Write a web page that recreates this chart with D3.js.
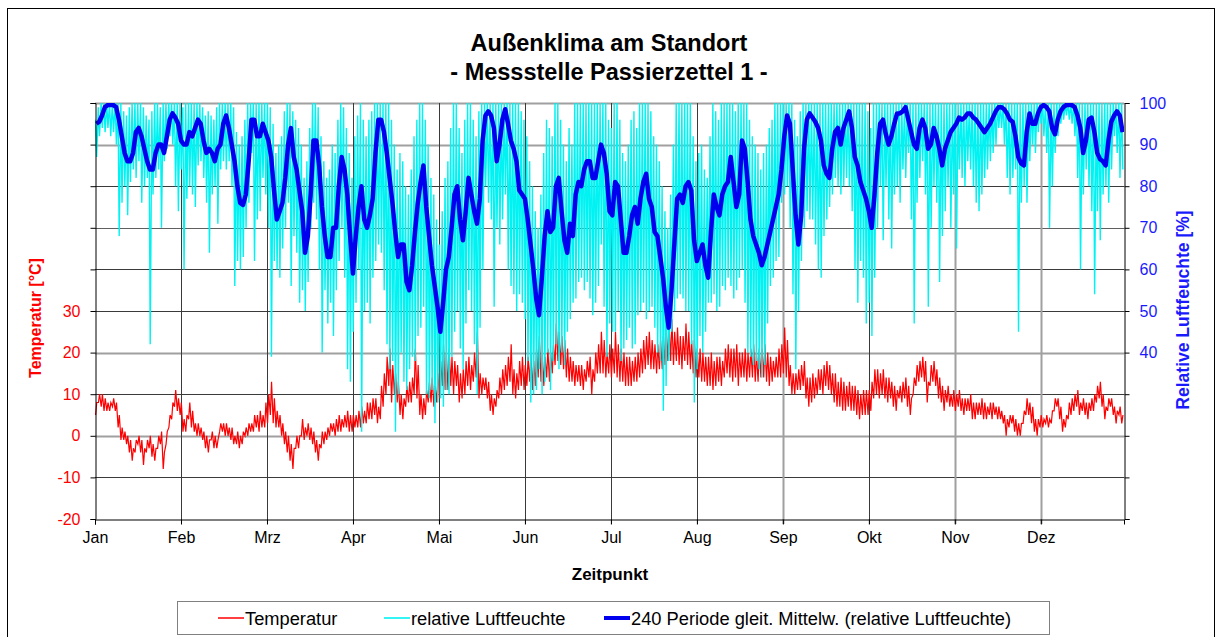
<!DOCTYPE html>
<html>
<head>
<meta charset="utf-8">
<script src="https://cdn.jsdelivr.net/npm/d3@7"></script>
<style>
  body { margin: 0; background: #fff; }
  svg { display: block; font-family: "Liberation Sans", Arial, sans-serif; }
</style>
</head>
<body>
<div id="chart"></div>
<script>
// daily values, 1 Jan .. 31 Dec (365 days)
// temperature: night low / afternoon high (°C)
const tLo = [
  5,8,7,6,6,6,7,6,2,-1,-1,-2,-4,-6,-4,-2,-4,-7,-4,-3,-5,-6,-3,-2,-8,-2,2,4,7,6,5,1,1,4,2,1,0,0,-1,-3,-4,-1,-3,-3,1,1,
  0,0,-1,-2,-2,-3,-2,0,0,1,1,2,1,2,2,3,5,3,2,2,0,-2,-4,-6,-8,-3,-3,0,-1,0,-1,-2,-4,-6,-3,-2,-1,0,1,0,1,1,2,2,1,
  1,2,2,2,3,3,4,4,5,3,4,7,10,12,8,10,8,5,4,7,8,8,10,9,5,4,5,8,8,7,8,9,12,11,11,12,10,12,8,9,10,12,11,13,14,9,10,
  11,9,6,5,7,9,10,11,12,13,10,9,11,12,11,12,13,11,12,14,13,12,14,13,15,17,18,17,16,14,13,13,12,13,12,11,13,14,10,13,15,15,15,14,15,14,
  15,14,13,13,12,12,12,13,13,14,15,16,17,16,16,15,16,16,17,18,18,17,18,17,16,18,17,16,15,14,14,13,13,12,12,11,12,13,12,14,15,14,13,14,12,14,
  14,13,14,14,13,13,14,14,13,12,13,14,14,14,15,14,12,10,10,11,11,12,9,7,8,9,10,11,10,12,11,10,8,7,7,6,6,7,6,6,5,4,5,5,
  5,6,9,10,9,10,9,8,9,7,6,9,8,9,7,5,10,12,13,14,13,8,12,13,12,9,8,6,8,7,7,6,7,6,5,6,6,4,4,5,5,4,4,5,4,5,4,
  4,3,0,2,3,1,0,0,3,5,5,3,1,0,2,2,3,2,3,6,7,4,1,2,4,5,6,7,5,6,5,4,6,6,8,9,7,4,6,7,5,3,5,3
];
const tHi = [
  8,10,10,9,8,8,9,8,5,2,1,0,-1,-3,-1,0,-1,-3,-1,0,-2,-3,0,1,-4,1,5,8,11,9,8,4,5,8,6,3,3,2,1,0,-1,1,0,-1,3,3,
  3,2,2,0,1,0,1,2,3,3,5,5,6,5,8,10,13,9,6,5,3,1,0,-2,-3,0,0,4,2,3,2,1,-1,-2,1,1,2,3,3,4,5,4,5,6,5,
  5,5,6,7,6,8,8,9,9,7,12,15,19,21,17,15,13,10,9,12,13,14,21,17,10,9,11,13,14,12,15,18,22,20,21,19,18,17,15,16,18,19,17,20,25,15,14,
  14,13,10,9,11,14,16,17,19,22,16,15,18,19,17,19,20,18,21,24,20,19,21,20,22,27,25,24,23,21,19,18,17,17,17,16,18,19,16,20,22,25,23,20,22,21,
  25,22,21,20,19,19,18,19,20,21,23,24,25,23,22,22,23,24,26,27,28,25,26,24,24,27,25,23,23,21,21,20,19,19,20,18,19,19,18,21,22,21,21,22,20,20,
  21,20,21,22,20,21,21,22,20,19,18,19,21,22,26,23,17,15,15,16,17,18,14,14,15,14,16,16,17,18,17,15,15,13,14,13,12,13,12,12,11,10,11,11,
  11,13,16,16,15,16,14,14,13,12,11,12,13,14,12,9,14,17,18,19,18,13,17,18,16,14,12,11,12,10,11,10,11,9,9,9,10,8,8,8,9,8,7,8,8,7,7,
  6,5,4,5,5,4,3,3,6,9,8,7,4,4,5,4,5,4,6,9,9,7,4,5,8,9,10,11,8,9,8,8,9,10,12,13,10,7,9,9,7,6,7,5
];
// relative humidity: night high / afternoon low (%)
const rhHi = [
  96,99,100,100,100,100,100,100,100,100,98,97,99,100,100,100,100,99,97,96,98,100,100,99,100,100,100,100,100,100,100,99,100,100,100,100,100,100,99,97,98,97,96,99,100,100,
  100,100,100,99,93,90,92,96,100,100,100,100,100,100,100,100,99,95,88,90,92,98,100,100,98,96,94,90,82,86,94,100,100,99,92,86,82,84,90,88,96,100,99,94,88,
  82,92,97,100,96,92,96,98,100,100,100,100,100,100,96,90,84,88,86,80,78,84,92,96,100,100,96,90,82,78,72,66,74,82,86,94,100,100,94,88,96,100,100,96,92,98,100,
  100,100,100,100,100,100,100,100,100,100,100,100,100,98,96,92,86,80,74,70,78,88,96,94,92,100,100,96,90,86,94,90,100,100,100,100,100,100,100,100,100,100,100,100,96,94,
  100,100,96,88,86,90,96,98,94,100,100,100,100,98,92,90,86,80,74,70,78,90,100,100,100,100,100,100,92,86,88,90,84,82,92,100,98,96,100,100,100,100,100,98,100,100,
  100,100,96,92,90,88,84,88,90,94,96,100,100,100,100,100,100,100,96,92,98,100,100,100,100,100,100,100,100,100,100,100,100,100,100,100,100,100,100,100,100,100,100,100,
  98,94,100,100,100,100,100,100,100,100,100,100,100,100,100,100,100,100,100,100,100,100,100,100,100,100,100,100,100,100,100,100,100,100,100,100,100,100,100,100,100,100,100,100,100,100,100,
  100,100,100,100,100,100,100,100,100,100,100,100,100,100,100,100,100,100,100,100,100,100,100,100,100,100,100,100,100,100,100,100,100,100,100,100,100,100,100,100,100,100,100,100
];
const rhLo = [
  87,92,94,93,94,92,93,90,68,76,80,73,81,84,82,86,76,80,82,42,78,82,84,70,86,89,92,90,80,74,84,60,77,80,78,75,85,86,82,76,64,78,80,71,84,86,
  84,86,80,56,62,60,63,70,76,88,62,72,74,82,78,70,39,62,60,58,65,70,76,56,68,64,52,55,50,57,70,76,72,60,40,55,47,52,44,55,62,70,58,36,33,
  45,52,60,21,50,52,47,58,62,66,64,55,42,36,38,21,30,40,33,31,36,39,38,44,46,51,30,29,31,23,28,29,27,31,30,39,45,50,41,36,47,55,50,42,30,46,60,
  80,76,72,51,70,66,72,78,60,56,54,50,54,52,48,38,28,30,31,36,30,33,40,31,38,42,36,40,37,45,48,52,53,57,58,55,57,53,49,52,56,66,51,39,47,45,
  45,50,38,41,43,46,41,42,49,50,52,48,50,51,46,40,38,26,32,38,45,50,53,54,53,50,50,42,28,36,44,40,45,52,52,54,50,51,56,55,58,56,53,55,58,60,
  52,40,39,37,38,36,34,37,47,56,58,62,63,76,78,80,70,54,36,50,62,70,74,72,72,66,60,58,68,72,75,78,82,80,78,80,82,80,74,60,52,62,58,47,
  52,44,58,70,80,67,80,72,65,78,80,76,84,82,88,72,47,76,82,86,78,51,70,80,76,57,68,74,80,70,78,65,84,82,80,86,84,80,76,74,78,82,84,86,88,90,94,
  94,90,82,78,82,84,45,76,80,76,86,90,88,93,95,92,88,70,80,88,92,95,96,97,96,95,92,82,60,78,84,80,74,54,74,67,78,80,76,84,92,88,82,84
];
// 240-hour moving average of the humidity, one value per day (%)
const rhAvg = [
  95,95.5,97,99,99.5,99.5,99.5,99,96,92,88,86,86,88,93,94,92,89,86,84,84,88,90,90,88,92,96,97.5,96.5,95,91,90,90,93,92,94,96,95,91,88,89,88,86,89,90,95,
  97,94,90,86,80,76,75.5,78,86,96,96,92,92,95,93,91,87,79,72,74,76,82,90,94,87,84,79,74,64,68,78,91,91,85,75,68,63,63,70,70,80,87,84,78,68,
  59,68,75,80,72,70,73,77,88,96,96,93,88,82,76,69,63,66,66,57,55,61,69,76,81,85,75,68,61,56,51,45,52,60,63,70,78,80,72,67,74,82,78,74,71,77,91,
  97,98,97,94,86,90,96,98.5,95,91,89,86,79,78,77,72,66,60,53,49,58,68,74,69,70,80,82,74,67,64,71,68,78,81,80,84,86,86,82,82,86,90,88,83,74,73,
  81,80,72,64,64,68,73,75,71,77,81,83,77,75,69,68,63,58,51,46,55,66,77,78,76,80,81,79,67,62,64,66,61,58,69,78,75,73,78,80,81,87,81,75,78,91,
  89,81,72,68,66,64,61,63,66,69,72,75,78,84,92,97,95,84,73,66,73,89,96,97.5,96.5,95.5,94,91,85,83,82,89,93,94,90,94,96,98,94,87,85,81,79,77,
  74,70,78,88,95,96,92.5,90,92,95,97.5,97.5,98,99,96,93,90,89,94,96,94,89,90,94,92,89,85,89,91,93,94,95,96.5,96,96.5,97.5,97.5,96.5,96,95,94,93,94,95,96.5,98,99,
  99,98.5,97.5,96,95.5,92,87,85.5,85,93,97.5,95,95,97.5,99,99.5,99,98,94,92.5,96,98,99,99.5,99.5,99.5,99,97,94,88,91,96,96.5,93,88,86.5,86,85,91,95.5,97,98,97,93
];
const monthLabels = ["Jan", "Feb", "Mrz", "Apr", "Mai", "Jun", "Jul", "Aug", "Sep", "Okt", "Nov", "Dez"];
const tempTicks = [-20, -10, 0, 10, 20, 30];
const rhTicks = [40, 50, 60, 70, 80, 90, 100];
const tickEveryHours = 732; // excel category axis: one tick per 732 readings

const W = 1216, H = 637;
const plot = { left: 95, right: 1124, top: 103, bottom: 519 };

const svg = d3.select("#chart").append("svg")
    .attr("width", W)
    .attr("height", H);

svg.append("rect")
    .attr("x", 7.5).attr("y", 8.5)
    .attr("width", 1207).attr("height", 640)
    .attr("fill", "#fff")
    .attr("stroke", "#000");

const x = d3.scaleLinear().domain([0, 8760]).range([plot.left, plot.right]);
const yT = d3.scaleLinear().domain([-20, 80]).range([plot.bottom, plot.top]);
const yH = d3.scaleLinear().domain([0, 100]).range([plot.bottom, plot.top]);

// gridlines (some render lighter in the original)
const lightRows = [100, 90, 40, 20];
const lightCols = [8, 10, 11];
const grid = svg.append("g");
d3.range(10, 101, 10).forEach(v => {
    const light = lightRows.includes(v);
    grid.append("line")
        .attr("x1", plot.left).attr("x2", plot.right)
        .attr("y1", Math.round(yH(v)) + 0.5).attr("y2", Math.round(yH(v)) + 0.5)
        .attr("stroke", light ? "#a0a0a0" : (v === 70 ? "#606060" : "#3a3a3a"))
        .attr("stroke-width", light ? 2 : 1);
});
d3.range(1, 12).forEach(k => {
    const light = lightCols.includes(k);
    const xp = Math.round(x(k * tickEveryHours)) + 0.5;
    grid.append("line")
        .attr("x1", xp).attr("x2", xp)
        .attr("y1", plot.top).attr("y2", plot.bottom + 5)
        .attr("stroke", light ? "#a0a0a0" : "#3a3a3a")
        .attr("stroke-width", light ? 2 : 1);
});

svg.append("clipPath").attr("id", "plotClip")
  .append("rect")
    .attr("x", plot.left).attr("y", plot.top)
    .attr("width", plot.right - plot.left).attr("height", plot.bottom - plot.top);

const tempPts = tLo.flatMap((lo, d) => [[d * 24 + 5, lo], [d * 24 + 15, tHi[d]]]);
const rhPts = rhHi.flatMap((hi, d) => [[d * 24 + 4, hi], [d * 24 + 14, rhLo[d]]]);
const avgPts = rhAvg.map((v, d) => [d * 24 + 12, v]);

const series = svg.append("g").attr("clip-path", "url(#plotClip)");

series.append("path")
    .datum(tempPts)
    .attr("fill", "none")
    .attr("stroke", "#ff0000")
    .attr("stroke-width", 1.2)
    .attr("d", d3.line().x(d => x(d[0])).y(d => yT(d[1])));

series.append("path")
    .datum(rhPts)
    .attr("fill", "none")
    .attr("stroke", "#00f2f2")
    .attr("stroke-width", 1.4)
    .attr("d", d3.line().x(d => x(d[0])).y(d => yH(d[1])));

series.append("path")
    .datum(avgPts)
    .attr("fill", "none")
    .attr("stroke", "#0000ee")
    .attr("stroke-width", 4.5)
    .attr("stroke-linejoin", "round")
    .attr("d", d3.line().x(d => x(d[0])).y(d => yH(d[1])));

// axes
const leftAxis = svg.append("g")
    .attr("transform", `translate(${plot.left + 0.5},0)`)
    .call(d3.axisLeft(yT).tickValues(d3.range(-20, 81, 10)).tickSize(5).tickFormat(d => tempTicks.includes(d) ? d : ""));
leftAxis.select(".domain").attr("stroke", "#000");
leftAxis.selectAll("text").attr("fill", "#ff0000").attr("font-size", 16).attr("x", -15).style("font-family", "inherit");

const rightAxis = svg.append("g")
    .attr("transform", `translate(${plot.right + 0.5},0)`)
    .call(d3.axisRight(yH).tickValues(d3.range(0, 101, 10)).tickSize(5).tickFormat(d => rhTicks.includes(d) ? d : ""));
rightAxis.select(".domain").attr("stroke", "#000");
rightAxis.selectAll("text").attr("fill", "#1a1aff").attr("font-size", 16).attr("x", 15).style("font-family", "inherit");

const bottomAxis = svg.append("g")
    .attr("transform", `translate(0,${plot.bottom + 0.5})`)
    .call(d3.axisBottom(x).tickValues(d3.range(0, 12).map(k => k * tickEveryHours)).tickSize(5)
        .tickFormat((d, i) => monthLabels[i]));
bottomAxis.select(".domain").attr("stroke", "#000");
bottomAxis.selectAll("text").attr("fill", "#000").attr("font-size", 16).attr("y", 12).style("font-family", "inherit");

// titles
svg.append("text")
    .attr("x", 609).attr("y", 51)
    .attr("text-anchor", "middle")
    .attr("font-size", 23.5).attr("font-weight", "bold")
    .text("Außenklima am Standort");
svg.append("text")
    .attr("x", 609).attr("y", 80)
    .attr("text-anchor", "middle")
    .attr("font-size", 23.5).attr("font-weight", "bold")
    .text("- Messstelle Passierzettel 1 -");

svg.append("text")
    .attr("transform", "translate(41,318) rotate(-90)")
    .attr("text-anchor", "middle")
    .attr("font-size", 16).attr("font-weight", "bold")
    .attr("fill", "#ff0000")
    .text("Temperatur [°C]");

svg.append("text")
    .attr("transform", "translate(1189,310) rotate(-90)")
    .attr("text-anchor", "middle")
    .attr("font-size", 17.5).attr("font-weight", "bold")
    .attr("fill", "#1a1aff")
    .text("Relative Luftfeuchte [%]");

svg.append("text")
    .attr("x", 610).attr("y", 580)
    .attr("text-anchor", "middle")
    .attr("font-size", 17).attr("font-weight", "bold")
    .text("Zeitpunkt");

// legend
const legend = svg.append("g");
legend.append("rect")
    .attr("x", 177.5).attr("y", 601.5)
    .attr("width", 872).attr("height", 33)
    .attr("fill", "#fff")
    .attr("stroke", "#808080");
const legendItems = [
    { label: "Temperatur", color: "#ff0000", width: 1.5, x: 218 },
    { label: "relative Luftfeuchte", color: "#33f5f5", width: 2, x: 384 },
    { label: "240 Periode gleit. Mittelw. (relative Luftfeuchte)", color: "#0000ee", width: 4, x: 604 }
];
legendItems.forEach(it => {
    legend.append("line")
        .attr("x1", it.x).attr("x2", it.x + 26)
        .attr("y1", 618).attr("y2", 618)
        .attr("stroke", it.color).attr("stroke-width", it.width);
    legend.append("text")
        .attr("x", it.x + 27).attr("y", 624.5)
        .attr("font-size", 18.3)
        .text(it.label);
});
</script>
</body>
</html>
